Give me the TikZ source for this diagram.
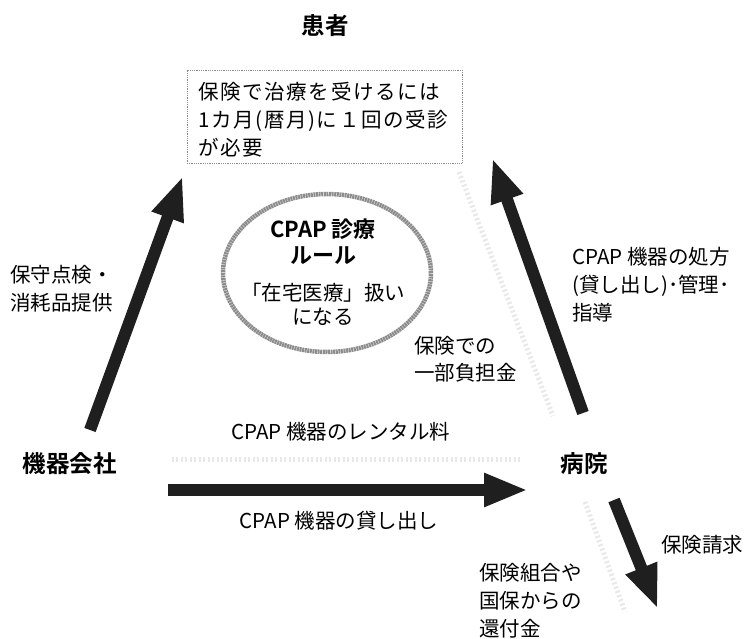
\documentclass[tikz,border=0pt]{standalone}
\usepackage{fontspec}
\setmainfont{Noto Sans CJK JP}
\newfontfamily\jpb{Noto Sans CJK JP Bold}
\usetikzlibrary{arrows.meta,shapes.geometric}
\tikzset{
  x=1pt,y=-1pt,
  lbl/.style={font=\fontsize{20.5}{28}\selectfont, inner sep=0pt, align=left},
  ttl/.style={font=\jpb\fontsize{23.5}{28}\selectfont, inner sep=0pt},
  bigarrow/.style={line width=12pt, draw=black!88, -{Triangle[width=31pt,length=44pt]}, shorten >=-2pt},
  faint/.style={line width=5pt, draw=black!9, dash pattern=on 2pt off 2.5pt},
}
\begin{document}
\begin{tikzpicture}
\useasboundingbox (0,0) rectangle (748,639);
% titles
\node[ttl] (patient) at (325,26) {患者};
\node[ttl] (company) at (70,464) {機器会社};
\node[ttl] (hospital) at (584,464) {病院};
% box
\node[draw=black!45, densely dotted, line width=0.8pt, minimum width=275pt, minimum height=93pt, inner sep=0pt] (box) at (324.5,116.5) {};
\node[lbl, anchor=north west, font=\addfontfeature{LetterSpace=8}\fontsize{20.5}{28}\selectfont] (boxtext) at (198,82) {保険で治療を受けるには\\1カ月(暦月)に１回の受診\\が必要};
% ellipse
\node[ellipse, draw=black!45, line width=4.5pt, dash pattern=on 2pt off 0.6pt, minimum width=208pt, minimum height=158pt] (rule) at (327,273) {};
\node[font=\jpb\fontsize{22}{26}\selectfont, align=center, inner sep=0pt] (ruletitle) at (323,242) {CPAP 診療\\ルール};
\node[lbl, align=center, font=\fontsize{20.5}{24}\selectfont] (ruletext) at (323,304) {「在宅医療」扱い\\になる};
% coordinates for arrows
\coordinate (a1s) at (90,430);
\coordinate (a1e) at (182,178);
\coordinate (a2s) at (583,413);
\coordinate (a2e) at (493,160);
\coordinate (a3s) at (168,490);
\coordinate (a3e) at (526,490);
\coordinate (a4s) at (614,500);
\coordinate (a4e) at (657,607);
% faint arrows
\coordinate (f1s) at (520,459);
\coordinate (f1e) at (172,459);
\coordinate (f2s) at (459,172);
\coordinate (f2e) at (553,416);
\coordinate (f3s) at (585,502);
\coordinate (f3e) at (625,612);
\draw[faint] (f1s) -- (f1e);
\draw[faint] (f2s) -- (f2e);
\draw[faint] (f3s) -- (f3e);
% dark arrows
\draw[bigarrow] (a1s) -- (a1e);
\draw[bigarrow] (a2s) -- (a2e);
\draw[bigarrow] (a3s) -- (a3e);
\draw[bigarrow] (a4s) -- (a4e);
% labels
\node[lbl, anchor=west] (l1) at (10,289) {保守点検・\\消耗品提供};
\node[lbl, anchor=west] (l2) at (572,285) {CPAP 機器の処方\\(貸し出し)･管理･\\指導};
\node[lbl, anchor=west, font=\fontsize{20.5}{27}\selectfont] (l3) at (414,359) {保険での\\一部負担金};
\node[lbl] (l4) at (341,432) {CPAP 機器のレンタル料};
\node[lbl] (l5) at (339,521) {CPAP 機器の貸し出し};
\node[lbl, anchor=west] (l6) at (661,545) {保険請求};
\node[lbl, anchor=west] (l7) at (479,601) {保険組合や\\国保からの\\還付金};
\end{tikzpicture}
\end{document}
